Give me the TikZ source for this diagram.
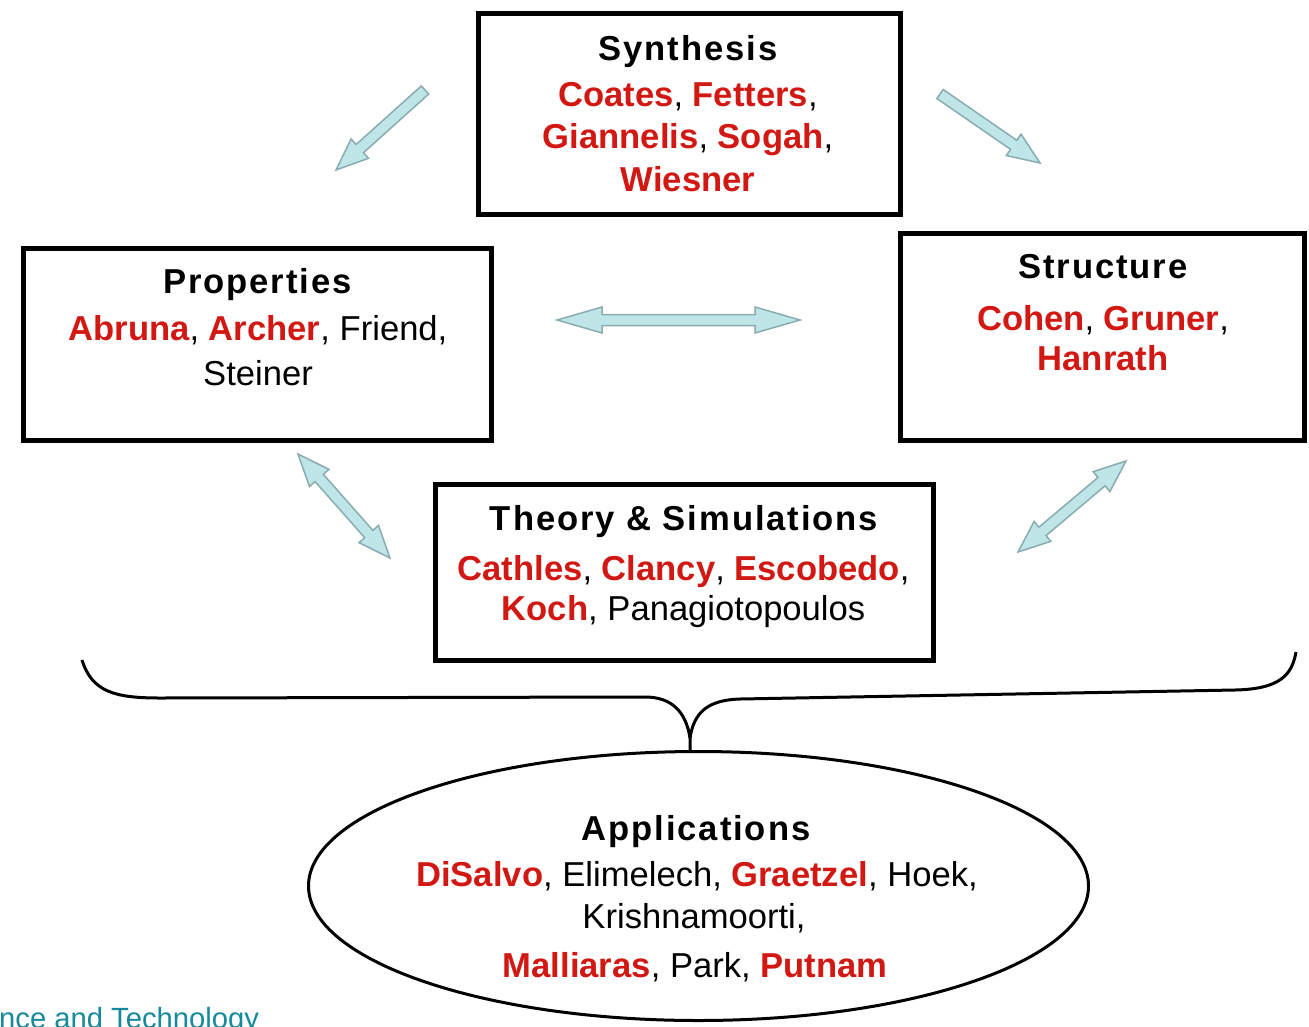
\documentclass[tikz,border=0pt]{standalone}
\usepackage{fontspec}
\setmainfont{Liberation Sans}
\usetikzlibrary{calc,shapes.geometric}

\definecolor{namered}{RGB}{210,24,18}
\definecolor{arrfill}{RGB}{190,230,233}
\definecolor{arrline}{RGB}{138,172,175}
\definecolor{footteal}{RGB}{20,138,155}

\newcommand\nm[1]{\textcolor{namered}{\bfseries #1}}
\def\shaftw{5.5pt}
\def\headw{13pt}

% block arrow with one head, from #2 to #3, head length #1
\newcommand\singlearrow[3][32pt]{%
  \draw[arrowbody]
    ($(#2)!\shaftw!90:(#3)$) --
    ($(#3)!#1!(#2)!\shaftw!90:(#3)$) --
    ($(#3)!#1!(#2)!\headw!90:(#3)$) -- (#3) --
    ($(#3)!#1!(#2)!\headw!-90:(#3)$) --
    ($(#3)!#1!(#2)!\shaftw!-90:(#3)$) --
    ($(#2)!\shaftw!-90:(#3)$) -- cycle;}

% block arrow with two heads
\newcommand\doublearrow[3][32pt]{%
  \draw[arrowbody] (#2) --
    ($(#2)!#1!(#3)!\headw!90:(#3)$) --
    ($(#2)!#1!(#3)!\shaftw!90:(#3)$) --
    ($(#3)!#1!(#2)!\shaftw!90:(#3)$) --
    ($(#3)!#1!(#2)!\headw!90:(#3)$) -- (#3) --
    ($(#3)!#1!(#2)!\headw!-90:(#3)$) --
    ($(#3)!#1!(#2)!\shaftw!-90:(#3)$) --
    ($(#2)!#1!(#3)!\shaftw!-90:(#3)$) --
    ($(#2)!#1!(#3)!\headw!-90:(#3)$) -- cycle;}

\begin{document}
\begin{tikzpicture}[
    x=1pt, y=-1pt,
    box/.style={rectangle,draw=black,line width=5pt,inner sep=0pt},
    hdr/.style={anchor=base,inner sep=0pt,
      font=\fontsize{34.6}{40}\selectfont\bfseries\addfontfeature{LetterSpace=5.5}},
    txt/.style={anchor=base,inner sep=0pt,font=\fontsize{34.6}{40}\selectfont},
    arrowbody/.style={draw=arrline,fill=arrfill,line width=1.5pt,line join=miter},
    brace/.style={draw=black,line width=3pt}
]
    \path[use as bounding box,fill=white] (0,0) rectangle (1309,1026);

    % boxes
    \node[box,minimum width=421.5,minimum height=201] (synth) at (689.25,114) {};
    \node[box,minimum width=468,minimum height=192] (props) at (257.5,344.5) {};
    \node[box,minimum width=404,minimum height=207] (struct) at (1102.5,337) {};
    \node[box,minimum width=498,minimum height=176] (theory) at (684.5,572.5) {};
    \node[ellipse,draw=black,line width=3pt,inner sep=0pt,
          minimum width=780,minimum height=269] (appl) at (698.5,886) {};

    % synthesis
    \node[hdr] (synthhd) at (688,60) {Synthesis};
    \node[txt] (synth1) at (688,106) {\nm{Coates}, \nm{Fetters},};
    \node[txt] (synth2) at (688,148) {\nm{Giannelis}, \nm{Sogah},};
    \node[txt] (synth3) at (688,191) {\nm{Wiesner}};

    % properties
    \node[hdr] (propshd) at (257.5,293) {Properties};
    \node[txt] (props1) at (258,340) {\nm{Abruna}, \nm{Archer}, Friend,};
    \node[txt] (props2) at (258,385) {Steiner};

    % structure
    \node[hdr] (structhd) at (1103,278) {Structure};
    \node[txt] (struct1) at (1103,330) {\nm{Cohen}, \nm{Gruner},};
    \node[txt] (struct2) at (1103,370) {\nm{Hanrath}};

    % theory
    \node[hdr] (theoryhd) at (684,530) {Theory \& Simulations};
    \node[txt] (theory1) at (683.5,580) {\nm{Cathles}, \nm{Clancy}, \nm{Escobedo},};
    \node[txt] (theory2) at (683.5,620) {\nm{Koch}, Panagiotopoulos};

    % applications
    \node[hdr] (applhd) at (696,840) {Applications};
    \node[txt] (appl1) at (697,886) {\nm{DiSalvo}, Elimelech, \nm{Graetzel}, Hoek,};
    \node[txt] (appl2) at (694,928) {Krishnamoorti,};
    \node[txt] (appl3) at (695,977) {\nm{Malliaras}, Park, \nm{Putnam}};

    % arrows
    \coordinate (a1s) at (425,90);   \coordinate (a1e) at (336,170);
    \coordinate (a2s) at (940,94);   \coordinate (a2e) at (1040,163);
    \coordinate (a3s) at (557,320);  \coordinate (a3e) at (800,320);
    \coordinate (a4s) at (298,454);  \coordinate (a4e) at (390,558);
    \coordinate (a5s) at (1126,461); \coordinate (a5e) at (1018,552);
    \singlearrow{a1s}{a1e}
    \singlearrow{a2s}{a2e}
    \doublearrow[45pt]{a3s}{a3e}
    \doublearrow{a4s}{a4e}
    \doublearrow{a5s}{a5e}

    % brace
    \coordinate (brL) at (82,660);
    \coordinate (brT) at (690,738);
    \coordinate (brM) at (690,751);
    \coordinate (brR) at (1296,652);
    \draw[brace] (brL) .. controls (92,692) and (115,698) .. (160,698)
        -- (645,697) .. controls (672,697) and (686,712) .. (brT) -- (brM);
    \draw[brace] (brT) .. controls (694,712) and (708,700) .. (740,699)
        -- (1235,690) .. controls (1280,689) and (1292,675) .. (brR);

    \node[anchor=base west,inner sep=0pt,text=footteal,
          font=\fontsize{29.2}{31}\selectfont] (foot) at (-1,1028) {nce and Technology};
\end{tikzpicture}
\end{document}
